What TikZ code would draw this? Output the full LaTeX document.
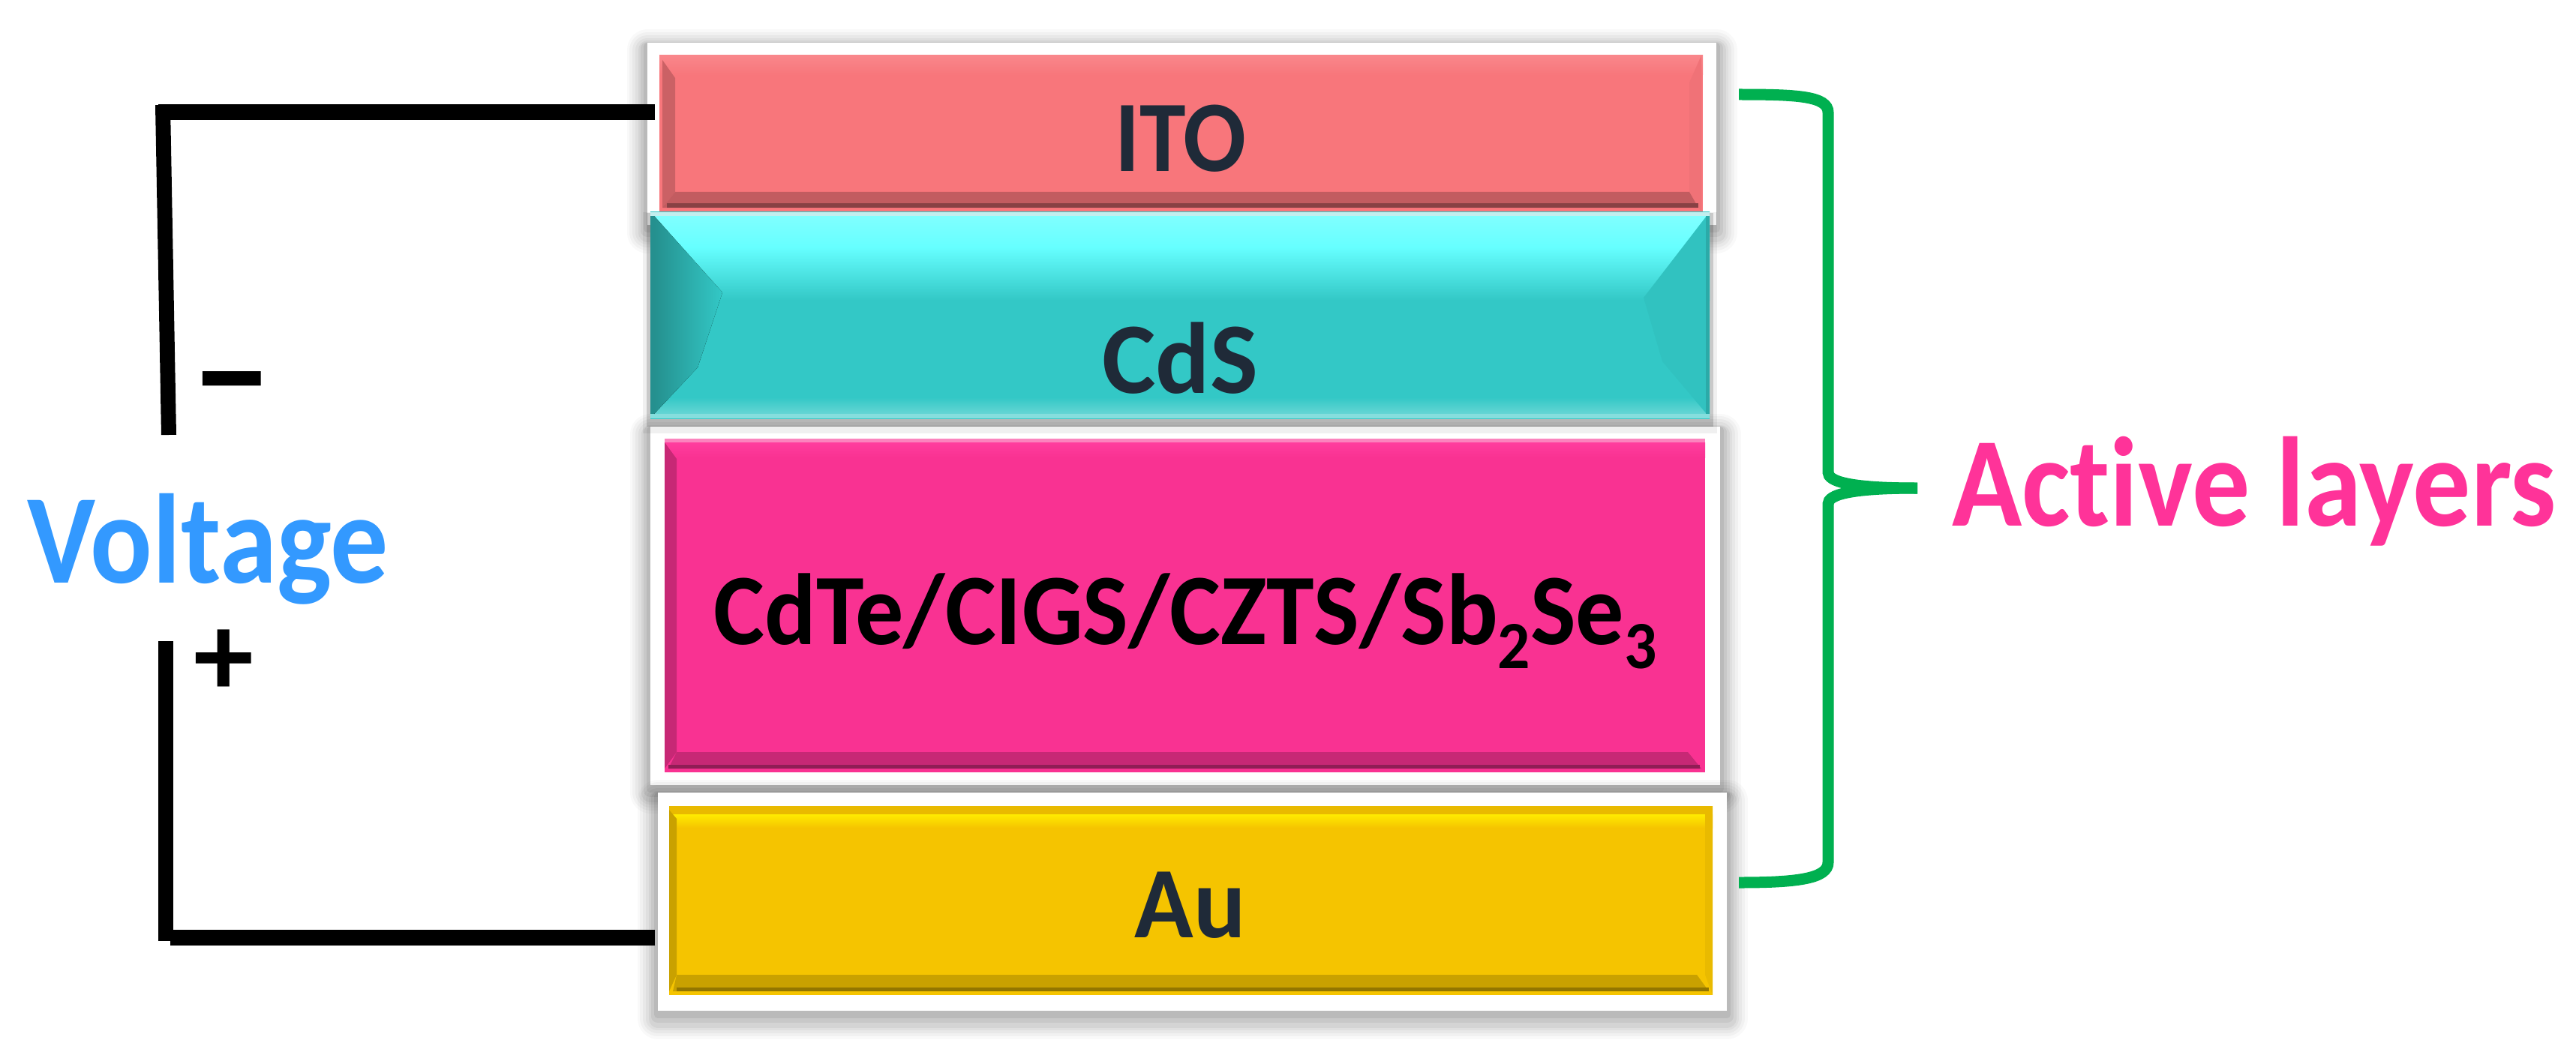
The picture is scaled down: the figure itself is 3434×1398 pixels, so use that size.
\documentclass[tikz,border=0pt]{standalone}
\usepackage{graphicx}
\usepackage{fontspec}
\setmainfont[Ligatures=NoCommon]{Carlito}
\definecolor{itoMain}{HTML}{F8767B}
\definecolor{cdsMain}{HTML}{33C8C6}
\definecolor{absMain}{HTML}{F93292}
\definecolor{auMain}{HTML}{F5C400}
\definecolor{labelInk}{HTML}{1F2A38}
\definecolor{wireGreen}{HTML}{00B050}
\definecolor{voltBlue}{HTML}{3399FF}
\definecolor{activePink}{HTML}{FF3399}
\newcommand{\lowidx}[1]{\raisebox{-6.5pt}{\fontsize{18}{18}\selectfont #1}}
\begin{document}
\begin{tikzpicture}[x=0.2pt,y=-0.2pt]
  \tikzset{
    softshadow/.style={
      line join=round,
      preaction={draw=black,draw opacity=.025,line width=11pt,transform canvas={yshift=-2pt}},
      preaction={draw=black,draw opacity=.03,line width=9.5pt,transform canvas={yshift=-2pt}},
      preaction={draw=black,draw opacity=.035,line width=8pt,transform canvas={yshift=-2pt}},
      preaction={draw=black,draw opacity=.04,line width=6.5pt,transform canvas={yshift=-2pt}},
      preaction={draw=black,draw opacity=.05,line width=5pt,transform canvas={yshift=-2pt}},
      preaction={draw=black,draw opacity=.06,line width=3.5pt,transform canvas={yshift=-1.5pt}},
      preaction={draw=black,draw opacity=.07,line width=2pt,transform canvas={yshift=-1pt}}
    },
    thinshadow/.style={
      preaction={draw=black,draw opacity=.06,line width=4pt,transform canvas={yshift=-2pt}},
      preaction={draw=black,draw opacity=.16,line width=2pt,transform canvas={yshift=-1.2pt}}
    },
    layerframe/.style={
      rectangle,
      fill=white,
      inner sep=0pt,
      softshadow
    },
    layerbox/.style={
      rectangle,
      inner sep=0pt
    },
    layerlabel/.style={
      anchor=base,
      inner sep=0pt,
      text=labelInk,
      font=\bfseries\fontsize{27}{27}\selectfont
    },
    bigtext/.style={
      anchor=base west,
      inner sep=0pt,
      font=\bfseries\fontsize{34}{34}\selectfont
    },
    wire/.style={draw=black,line width=4.2pt},
    bracket/.style={draw=wireGreen,line width=3pt}
  }
  \useasboundingbox (0,0) rectangle (3434,1398);

  % ITO
  \node[layerframe,minimum width=285pt,minimum height=48.6pt] (itoFrame) at (1575.5,178.5) {};
  \node[layerbox,fill=itoMain,minimum width=278.2pt,minimum height=41.8pt] (itoBox) at (1574.5,178.5) {};
  \fill[top color=itoMain!88!white,bottom color=itoMain] (879,74) rectangle (2270,100);
  \fill[itoMain!82!black] (883,80) -- (900,104) -- (900,256) -- (883,277) -- cycle;
  \fill[itoMain!97!black] (2268,74) -- (2252,110) -- (2252,256) -- (2268,283) -- cycle;
  \fill[itoMain!78!black] (900,256) -- (2252,256) -- (2264,277) -- (883,277) -- cycle;
  \fill[itoMain!55!black] (889,271) rectangle (2264,277);

  % CdTe and friends
  \node[layerframe,minimum width=285.2pt,minimum height=95.6pt] (absFrame) at (1580,808) {};
  \node[layerbox,fill=absMain,minimum width=277.4pt,minimum height=89pt] (absBox) at (1579.5,807.5) {};
  \fill[absMain!60!white] (886,585) rectangle (2273,590);
  \fill[top color=activePink!95!white,bottom color=absMain] (886,590) rectangle (2273,610);
  \fill[absMain!80!black] (886,590) -- (902,612) -- (902,1003) -- (886,1025) -- cycle;
  \fill[absMain!80!black] (902,1003) -- (2250,1003) -- (2268,1025) -- (891,1025) -- cycle;
  \fill[absMain!58!black] (891,1020) rectangle (2266,1025);

  % CdS
  \node[layerbox,thinshadow,minimum width=282.4pt,minimum height=55pt,
    top color=cdsMain,bottom color=cdsMain] (cdsBox) at (1573,420.5) {};
  \fill[cdsMain!30!white] (867,283) rectangle (2279,288);
  \fill[top color=cyan!50!white,bottom color=cyan!60!white] (867,288) rectangle (2279,330);
  \fill[top color=cyan!60!white,bottom color=cdsMain] (867,330) rectangle (2279,400);
  \fill[top color=cdsMain,bottom color=cdsMain!75!white] (867,530) rectangle (2279,552);
  \fill[cdsMain!60!white] (867,552) rectangle (2279,558);
  \fill[left color=cdsMain!72!black,right color=cdsMain] (872,288) -- (963,390) -- (930,490) -- (872,552) -- cycle;
  \fill[cdsMain!97!black] (2275,288) -- (2191,397) -- (2216,482) -- (2275,552) -- cycle;
  \fill[cdsMain!72!black] (867,288) rectangle (872,552);
  \fill[cdsMain!85!black] (2274,288) rectangle (2279,552);

  % Au
  \node[layerframe,minimum width=285pt,minimum height=58.2pt] (auFrame) at (1589.5,1202.5) {};
  \node[layerbox,fill=auMain,minimum width=278.2pt,minimum height=50.4pt] (auBox) at (1587.5,1201) {};
  \fill[auMain!95!black] (892,1075) rectangle (2283,1086);
  \fill[top color=yellow!85!orange,bottom color=auMain] (892,1086) rectangle (2283,1104);
  \fill[auMain!82!black] (892,1080) -- (902,1092) -- (902,1300) -- (892,1322) -- cycle;
  \fill[auMain!95!black] (2283,1075) -- (2273,1086) -- (2273,1300) -- (2283,1327) -- cycle;
  \fill[auMain!82!black] (902,1300) -- (2262,1300) -- (2278,1322) -- (897,1322) -- cycle;
  \fill[auMain!60!black] (902,1317) rectangle (2278,1322);

  \node[layerlabel] (itoLabel) at (1574,228) {\scalebox{.92}[1]{ITO}};
  \node[layerlabel] (cdsLabel) at (1573,524) {CdS};
  \node[layerlabel,text=black] (absLabel) at (1580,859) {\scalebox{.95}[1]{CdTe/CIGS/CZTS/Sb\lowidx{2}Se\lowidx{3}}};
  \node[layerlabel] (auLabel) at (1587,1250) {\scalebox{.96}[1]{Au}};

  \node[bigtext,text=voltBlue] (voltLabel) at (36,777) {\scalebox{.905}[1]{Voltage}};
  \node[bigtext,text=activePink] (activeLabel) at (2601,701) {\scalebox{.905}[1]{Active layers}};
  \node[anchor=center,inner sep=0pt,font=\bfseries\fontsize{44}{44}\selectfont] (minusLabel) at (309,532) {–};
  \node[anchor=center,inner sep=0pt,font=\bfseries\fontsize{32}{32}\selectfont] (plusLabel) at (298,884) {+};

  \coordinate (topPin) at (873,150);
  \coordinate (topCorner) at (211,150);
  \coordinate (topBend) at (217,140);
  \coordinate (minusEnd) at (225,580);
  \coordinate (botPin) at (873,1250);
  \coordinate (botCorner) at (227,1250);
  \coordinate (botBend) at (221,1255);
  \coordinate (plusEnd) at (221,855);

  \draw[wire] (topPin) -- (topCorner);
  \draw[wire,line width=4pt] (topBend) -- (minusEnd);
  \draw[wire] (botPin) -- (botCorner);
  \draw[wire,line width=4pt] (botBend) -- (plusEnd);

  \coordinate (braceTop) at (2318,126);
  \coordinate (braceBot) at (2318,1177);
  \coordinate (braceTip) at (2556,651);
  \draw[bracket] (braceTop) .. controls (2395,126) and (2437,128) .. (2437,150)
    -- (2437,630) .. controls (2437,642) and (2465,651) .. (braceTip);
  \draw[bracket] (braceBot) .. controls (2395,1177) and (2437,1172) .. (2437,1150)
    -- (2437,672) .. controls (2437,660) and (2465,651) .. (braceTip);
\end{tikzpicture}
\end{document}
